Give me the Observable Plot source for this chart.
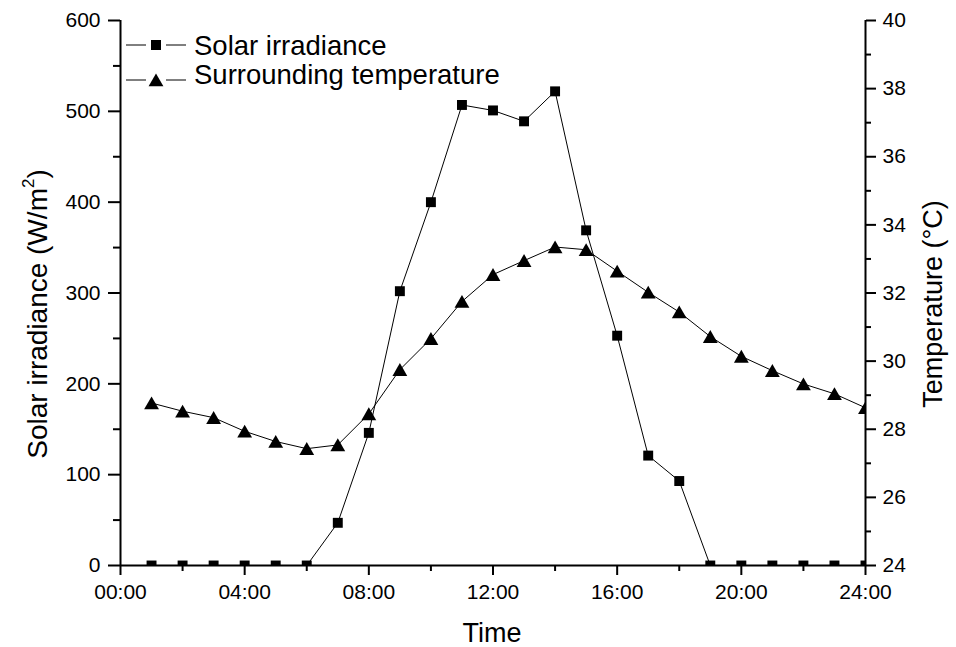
<!DOCTYPE html>
<html>
<head>
<meta charset="utf-8">
<script src="https://cdn.jsdelivr.net/npm/d3@7"></script>
<script src="https://cdn.jsdelivr.net/npm/@observablehq/plot@0.6"></script>
<style>
  html, body { margin: 0; padding: 0; background: #fff; }
  #chart { width: 956px; height: 647px; }
</style>
</head>
<body>
<div id="chart"></div>
<script>
// ---- data ----
const hours = [1, 2, 3, 4, 5, 6, 7, 8, 9, 10, 11, 12, 13, 14, 15, 16, 17, 18, 19, 20, 21, 22, 23, 24];
const solarIrradiance = [0, 0, 0, 0, 0, 0, 47, 146, 302, 400, 507, 501, 489, 522, 369, 253, 121, 93, 0, 0, 0, 0, 0, 0];
const temperature = [28.77, 28.53, 28.34, 27.94, 27.64, 27.43, 27.54, 28.45, 29.75, 30.66, 31.75, 32.54,
                     32.95, 33.35, 33.27, 32.64, 32.02, 31.44, 30.72, 30.14, 29.72, 29.33, 29.04, 28.63];

const xTicks = [0, 4, 8, 12, 16, 20, 24];
const xMinorTicks = [2, 6, 10, 14, 18, 22];
const yTicks = [0, 100, 200, 300, 400, 500, 600];
const yMinorTicks = [50, 150, 250, 350, 450, 550];
const tTicks = [24, 26, 28, 30, 32, 34, 36, 38, 40];
const tMinorTicks = [25, 27, 29, 31, 33, 35, 37, 39];

const seriesNames = ["Solar irradiance", "Surrounding temperature"];
const xTitle = "Time";
const yTitleMain = "Solar irradiance (W/m";
const yTitleSup = "2";
const yTitleEnd = ")";
const y2Title = "Temperature (°C)";

// temperature axis [24, 40] mapped onto the irradiance axis [0, 600]
const tMin = 24, tMax = 40, yMax = 600;
const tToY = t => (t - tMin) * yMax / (tMax - tMin);
const yToT = y => tMin + y * (tMax - tMin) / yMax;

const solarData = hours.map((h, i) => ({hour: h, value: solarIrradiance[i]}));
const tempData = hours.map((h, i) => ({hour: h, value: tToY(temperature[i])}));

const FONT = "'Liberation Sans', Arial, Helvetica, sans-serif";

const chart = Plot.plot({
  width: 956,
  height: 647,
  marginLeft: 120,
  marginRight: 91,
  marginTop: 20,
  marginBottom: 82,
  style: {fontFamily: FONT, fontSize: "21px", color: "#000", background: "#fff", overflow: "visible"},
  x: {domain: [0, 24]},
  y: {domain: [0, 600]},
  marks: [
    // axes
    Plot.axisX(xTicks, {tickSize: 10, tickPadding: 9, strokeWidth: 2, label: null,
      tickFormat: d => String(d).padStart(2, "0") + ":00", fontSize: 21}),
    Plot.axisX(xMinorTicks, {tickSize: 6, strokeWidth: 2, label: null, tickFormat: () => ""}),
    Plot.axisY(yTicks, {anchor: "left", tickSize: 12, tickPadding: 8, strokeWidth: 2, label: null, fontSize: 21}),
    Plot.axisY(yMinorTicks, {anchor: "left", tickSize: 7, strokeWidth: 2, label: null, tickFormat: () => ""}),
    Plot.axisY(tTicks.map(tToY), {anchor: "right", tickSize: 10, tickPadding: 7, strokeWidth: 2, label: null,
      tickFormat: d => String(Math.round(yToT(d))), fontSize: 21}),
    Plot.axisY(tMinorTicks.map(tToY), {anchor: "right", tickSize: 5, strokeWidth: 2, label: null, tickFormat: () => ""}),
    Plot.ruleX([0, 24], {stroke: "#000", strokeWidth: 2}),
    Plot.ruleY([0], {stroke: "#000", strokeWidth: 2}),
    // series
    Plot.line(solarData, {x: "hour", y: "value", stroke: "#000", strokeWidth: 1, clip: true}),
    Plot.dot(solarData, {x: "hour", y: "value", symbol: "square", r: 5.6, fill: "#000", stroke: "none", clip: true}),
    Plot.line(tempData, {x: "hour", y: "value", stroke: "#000", strokeWidth: 1, clip: true}),
    Plot.dot(tempData, {x: "hour", y: "value", symbol: "triangle", r: 5.5, dy: 2, fill: "#000", stroke: "none", clip: true})
  ]
});

const svg = d3.select(chart);

// axis titles
const titles = svg.append("g").attr("font-family", FONT).attr("fill", "#000").attr("text-anchor", "middle");
const lt = titles.append("text").attr("font-size", 28).attr("transform", "translate(37,314) rotate(-90)").attr("dy", "0.35em");
lt.append("tspan").text(yTitleMain);
lt.append("tspan").attr("font-size", 17).attr("dy", "-0.75em").text(yTitleSup);
lt.append("tspan").attr("dy", "0.45em").text(yTitleEnd);
titles.append("text").attr("font-size", 27).attr("transform", "translate(933,304) rotate(-90)").attr("dy", "0.35em").text(y2Title);
titles.append("text").attr("font-size", 27).attr("x", 492).attr("y", 633).attr("dy", "0.35em").text(xTitle);

// legend inside the plot area, top-left
const lg = svg.append("g").attr("font-family", FONT).attr("font-size", 27.5).attr("text-anchor", "start");
const items = [
  {name: seriesNames[0], symbol: d3.symbolSquare, size: 100, y: 45, ty: 45, dy: 0},
  {name: seriesNames[1], symbol: d3.symbolTriangle, size: 95, y: 80, ty: 74, dy: 2}
];
items.forEach(it => {
  const g = lg.append("g");
  g.append("line").attr("x1", 126).attr("x2", 146).attr("y1", it.y).attr("y2", it.y).attr("stroke", "#000").attr("stroke-width", 1);
  g.append("line").attr("x1", 166).attr("x2", 186).attr("y1", it.y).attr("y2", it.y).attr("stroke", "#000").attr("stroke-width", 1);
  g.append("path").attr("d", d3.symbol(it.symbol, it.size)()).attr("transform", `translate(156,${it.y + it.dy})`).attr("fill", "#000");
  g.append("text").attr("x", 194).attr("y", it.ty).attr("dy", "0.35em").attr("fill", "#000").text(it.name);
});

document.getElementById("chart").appendChild(chart);
</script>
</body>
</html>
